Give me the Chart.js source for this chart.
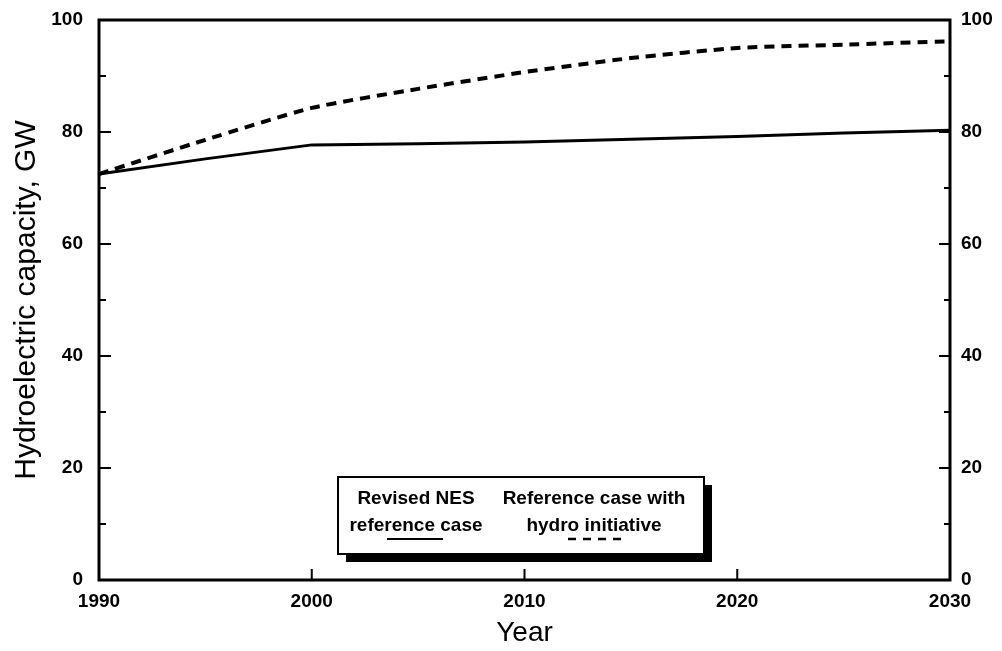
<!DOCTYPE html>
<html>
<head>
<meta charset="utf-8">
<script src="https://cdn.jsdelivr.net/npm/chart.js@4.4.1/dist/chart.umd.min.js"></script>
<style>
  html, body { margin: 0; padding: 0; background: #fff; }
  #wrap { width: 1002px; height: 651px; }
  canvas { display: block; }
</style>
</head>
<body>
<div id="wrap"><canvas id="c" width="1002" height="651"></canvas></div>
<script>
// ---- data ----
const years = [1990, 1995, 2000, 2005, 2010, 2015, 2020, 2025, 2030];
const revisedNES = [72.5, 75.2, 77.7, 77.9, 78.2, 78.7, 79.2, 79.8, 80.3];
const hydroInitiative = [72.5, 78.6, 84.3, 87.7, 90.7, 93.2, 95.0, 95.6, 96.2];
const xTicks = [1990, 2000, 2010, 2020, 2030];
const yTicks = [0, 20, 40, 60, 80, 100];
const yMinorTicks = [10, 30, 50, 70, 90];
const seriesNames = ['Revised NES reference case', 'Reference case with hydro initiative'];
const legendLines = [['Revised NES', 'reference case'], ['Reference case with', 'hydro initiative']];
const xTitle = 'Year';
const yTitle = 'Hydroelectric capacity, GW';

const FONT = "'Liberation Sans', Arial, Helvetica, sans-serif";

const toPoints = (xs, ys) => xs.map((v, i) => ({ x: v, y: ys[i] }));

const framePlugin = {
  id: 'frameAndLegend',
  afterDatasetsDraw(chart) {
    const { ctx, chartArea: a, scales } = chart;
    const x = scales.x, y = scales.y;
    ctx.save();
    ctx.strokeStyle = '#000';
    ctx.lineCap = 'butt';
    // frame
    ctx.lineWidth = 3;
    ctx.strokeRect(a.left, a.top, a.right - a.left, a.bottom - a.top);
    const seg = (x1, y1, x2, y2) => { ctx.beginPath(); ctx.moveTo(x1, y1); ctx.lineTo(x2, y2); ctx.stroke(); };
    ctx.lineWidth = 2;
    yTicks.forEach(v => {
      if (v === 0 || v === 100) return;
      const py = y.getPixelForValue(v);
      seg(a.left, py, a.left + 12, py);
      seg(a.right, py, a.right - 11, py);
    });
    yMinorTicks.forEach(v => {
      const py = y.getPixelForValue(v);
      seg(a.left, py, a.left + 7, py);
      seg(a.right, py, a.right - 6, py);
    });
    xTicks.forEach(v => {
      if (v === xTicks[0] || v === xTicks[xTicks.length - 1]) return;
      const px = x.getPixelForValue(v);
      seg(px, a.bottom, px, a.bottom - 11);
    });

    // legend box with drop shadow
    const bx = 338, by = 477, bw = 366, bh = 77;
    ctx.fillStyle = '#000';
    ctx.fillRect(bx + 8, by + 8, bw, bh);
    ctx.fillStyle = '#fff';
    ctx.fillRect(bx, by, bw, bh);
    ctx.lineWidth = 2;
    ctx.strokeRect(bx, by, bw, bh);

    ctx.fillStyle = '#000';
    ctx.font = "bold 19px " + FONT;
    ctx.textAlign = 'center';
    ctx.textBaseline = 'alphabetic';
    const cols = [416, 594];
    legendLines.forEach((lines, i) => {
      ctx.fillText(lines[0], cols[i], 504);
      ctx.fillText(lines[1], cols[i], 531);
      ctx.lineWidth = i === 0 ? 2 : 2.5;
      ctx.setLineDash(i === 0 ? [] : [8, 7]);
      const half = 28;
      seg(cols[i] - half + (i === 0 ? -1 : 2), 539, cols[i] + half + (i === 0 ? -1 : 2), 539);
    });
    ctx.setLineDash([]);
    ctx.restore();
  }
};

const noPad = s => { s.paddingTop = 0; s.paddingBottom = 0; s.paddingLeft = 0; s.paddingRight = 0; };

new Chart(document.getElementById('c'), {
  type: 'line',
  data: {
    datasets: [
      {
        label: seriesNames[0],
        data: toPoints(years, revisedNES),
        borderColor: '#000',
        borderWidth: 3,
        pointRadius: 0,
        tension: 0,
        fill: false
      },
      {
        label: seriesNames[1],
        data: toPoints(years, hydroInitiative),
        borderColor: '#000',
        borderWidth: 4,
        borderDash: [10, 7],
        pointRadius: 0,
        tension: 0.2,
        fill: false
      }
    ]
  },
  options: {
    responsive: false,
    devicePixelRatio: 1,
    animation: false,
    layout: { padding: { top: 20, left: 0, right: 0, bottom: 0 } },
    plugins: { legend: { display: false }, tooltip: { enabled: false } },
    scales: {
      x: {
        type: 'linear',
        position: 'bottom',
        min: 1990, max: 2030,
        afterBuildTicks: s => { s.ticks = xTicks.map(v => ({ value: v })); },
        afterFit: s => { s.height = 71; noPad(s); },
        grid: { display: false, drawTicks: false, tickLength: 0 },
        border: { display: false },
        ticks: {
          color: '#000',
          font: { family: FONT, size: 19, weight: 'bold' },
          padding: 10,
          maxRotation: 0,
          autoSkip: false,
          callback: v => String(v)
        },
        title: {
          display: true, text: xTitle, color: '#000',
          font: { family: FONT, size: 28 },
          padding: { top: 0, bottom: 1 }
        }
      },
      y: {
        type: 'linear',
        position: 'left',
        min: 0, max: 100,
        afterBuildTicks: s => { s.ticks = yTicks.map(v => ({ value: v })); },
        afterFit: s => { s.width = 99; noPad(s); },
        grid: { display: false, drawTicks: false, tickLength: 0 },
        border: { display: false },
        ticks: {
          color: '#000',
          font: { family: FONT, size: 19, weight: 'bold' },
          padding: 16,
          callback: v => String(v)
        },
        title: {
          display: true, text: yTitle, color: '#000',
          font: { family: FONT, size: 30 },
          padding: { top: 9, bottom: 0 }
        }
      },
      y2: {
        type: 'linear',
        position: 'right',
        min: 0, max: 100,
        afterBuildTicks: s => { s.ticks = yTicks.map(v => ({ value: v })); },
        afterFit: s => { s.width = 52; noPad(s); },
        grid: { display: false, drawTicks: false, tickLength: 0 },
        border: { display: false },
        ticks: {
          color: '#000',
          font: { family: FONT, size: 19, weight: 'bold' },
          padding: 11,
          callback: v => String(v)
        }
      }
    }
  },
  plugins: [framePlugin]
});
</script>
</body>
</html>
